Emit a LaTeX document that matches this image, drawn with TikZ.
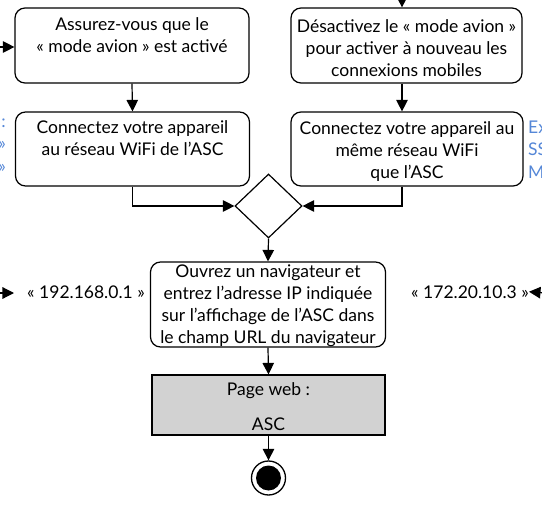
\documentclass[tikz,border=0pt]{standalone}
\usepackage{fontspec}
\setmainfont{Lato}
\usetikzlibrary{shapes.geometric,arrows.meta,calc}
\definecolor{noteblue}{RGB}{85,135,215}
\definecolor{boxgray}{RGB}{210,210,210}
\tikzset{
  stepbox/.style={draw, line width=1.2pt, rounded corners=10pt, inner sep=0pt},
  endbox/.style={draw, line width=1.2pt, fill=boxgray, inner sep=0pt},
  plain/.style={inner sep=0pt, align=center, font=\fontsize{17.5}{22}\selectfont},
  note/.style={inner sep=0pt, text=noteblue, font=\fontsize{17.5}{22}\selectfont},
  arr/.style={line width=1.2pt, -{Triangle[length=11.5pt,width=11.5pt]}},
}
\begin{document}
\begin{tikzpicture}[x=1pt,y=-1pt]
\useasboundingbox (0,0) rectangle (542,506);
\clip (0,0) rectangle (542,506);
\node[stepbox, minimum width=234pt, minimum height=75pt] (b1) at (132,45.5) {};
\node[plain] (t1) at ($(b1.center)+(0,4)$) {Assurez-vous que le\\« mode avion » est activé\\\strut};
\node[stepbox, minimum width=231pt, minimum height=75pt] (b2) at (406.5,45.5) {};
\node[plain] (t2) at ($(b2.center)+(0,3)$) {Désactivez le « mode avion »\\pour activer à nouveau les\\connexions mobiles};
\node[stepbox, minimum width=234pt, minimum height=74pt] (b3) at (132.5,149) {};
\node[plain] (t3) at ($(b3.center)+(0,3)$) {Connectez votre appareil\\au réseau WiFi de l’ASC\\\strut};
\node[stepbox, minimum width=232pt, minimum height=74pt] (b4) at (407,149) {};
\node[plain] (t4) at ($(b4.center)+(0,3)$) {Connectez votre appareil au\\même réseau WiFi\\que l’ASC};
\node[draw, line width=1.2pt, diamond, minimum width=67pt, minimum height=64pt, inner sep=0pt] (d) at (268.5,206) {};
\node[stepbox, minimum width=235pt, minimum height=85pt] (b5) at (268,304.5) {};
\node[plain] (t5) at ($(b5.center)+(0,1)$) {Ouvrez un navigateur et\\entrez l’adresse IP indiquée\\sur l’affichage de l’ASC dans\\le champ URL du navigateur};
\node[endbox, minimum width=233pt, minimum height=60pt] (b6) at (268.5,405) {};
\node[plain] (t6) at ($(b6.center)+(0,2)$) {Page web :\\[13pt]ASC};
\node[circle, draw, line width=1.3pt, minimum size=34pt, inner sep=0pt,
  path picture={\fill (path picture bounding box.center) circle (12.5pt);}] (fin) at (268.5,478) {};
\node[plain, anchor=base] (ip1) at (86,298) {« 192.168.0.1 »};
\node[plain, anchor=base east] (ip2) at (529,298) {« 172.20.10.3 »};
\node[note, anchor=base east] (nl1) at (6,127) {:};
\node[note, anchor=base east] (nl2) at (6,149.5) {»};
\node[note, anchor=base east] (nl3) at (6,172) {»};
\node[note, anchor=base west] (nr1) at (528,133) {Ex};
\node[note, anchor=base west] (nr2) at (528,155) {SS};
\node[note, anchor=base west] (nr3) at (528,178) {M};
\coordinate (in1) at (0,47);
\coordinate (in2) at (402,0);
\coordinate (in3) at (0,293);
\coordinate (tip3) at (14,293);
\coordinate (in4) at (545,293);
\draw[arr] (in1) -- (in1 -| b1.west);
\draw[arr] (in2) -- (in2 |- b2.north);
\draw[arr] (b1.south) -- (b3.north);
\draw[arr] (in2 |- b2.south) -- (in2 |- b4.north);
\draw[arr] (b3.south) |- (d.west);
\draw[arr] (in2 |- b4.south) |- (d.east);
\draw[arr] (d.south) -- (b5.north);
\draw[arr] (b5.south) -- (b6.north);
\draw[arr] (b6.south) -- (fin.north);
\draw[arr] (in3) -- (tip3);
\draw[arr] (in4) -- (ip2.east);
\end{tikzpicture}
\end{document}
